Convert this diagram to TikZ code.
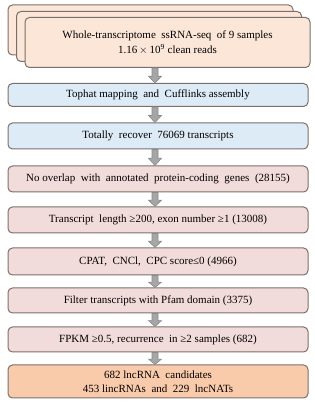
\documentclass[tikz,border=0pt]{standalone}
\usepackage{fontspec}
\setmainfont{Liberation Serif}
\usetikzlibrary{calc}
\definecolor{peach}{HTML}{FCE6D8}
\definecolor{lblue}{HTML}{DDEBF6}
\definecolor{lpink}{HTML}{F2DCDB}
\definecolor{lorange}{HTML}{F9CBAB}
\definecolor{bord}{HTML}{7A706B}
\definecolor{arfill}{HTML}{A6A6A6}
\definecolor{ardraw}{HTML}{8A8A8A}
\tikzset{
  box/.style={draw=bord, line width=1pt, rounded corners=4.5pt, inner sep=0pt,
    minimum width=300pt, align=center, font=\fontsize{11}{14.5}\selectfont},
  stackbox/.style={box, fill=peach, minimum width=285pt, minimum height=50pt},
  bluebox/.style={box, fill=lblue},
  pinkbox/.style={box, fill=lpink},
  endbox/.style={box, fill=lorange, font=\fontsize{11}{13.5}\selectfont},
  blockarrow/.style={fill=arfill, draw=ardraw, line width=0.6pt},
}
\newcommand\flowarrow[2]{%
  \path[blockarrow] let \p1=(#1.south), \p2=(#2.north), \n1={\y1-\y2} in
    (152pt,\y1) -- (158pt,\y1) -- (158pt,{\y2+0.45*\n1}) -- (161.5pt,{\y2+0.45*\n1})
    -- (155pt,\y2) -- (148.5pt,{\y2+0.45*\n1}) -- (152pt,{\y2+0.45*\n1}) -- cycle;}
\begin{document}
\begin{tikzpicture}[x=1pt,y=1pt]
\useasboundingbox (0,0) rectangle (315,404);
\node[stackbox] (s3) at (150.5,374) {};
\node[stackbox] (s2) at (159,367.5) {};
\node[stackbox] (s1) at (167.5,361.5) {Whole-transcriptome\ \ ssRNA-seq\ \ of 9 samples\\1.16$\,\times\,$10\textsuperscript{9} clean reads};
\node[bluebox, minimum height=23pt] (b1) at (158,309) {Tophat mapping\ \ and\ \ Cufflinks assembly};
\node[bluebox, minimum height=26pt] (b2) at (158,268) {Totally\ \ recover\ \ 76069 transcripts};
\node[pinkbox, minimum height=26pt] (p1) at (158,225) {No overlap\ \ with\ \ annotated\ \ protein-coding\ \ genes\ \ (28155)};
\node[pinkbox, minimum height=26pt] (p2) at (158,184) {Transcript\ \ length ≥200, exon number ≥1 (13008)};
\node[pinkbox, minimum height=27pt] (p3) at (158,142.5) {CPAT,\ \ CNCl,\ \ CPC score≤0 (4966)};
\node[pinkbox, minimum height=25pt] (p4) at (158,103.5) {Filter transcripts with Pfam domain (3375)};
\node[pinkbox, minimum height=25pt] (p5) at (158,64.5) {FPKM ≥0.5, recurrence\ \ in ≥2 samples (682)};
\node[endbox, minimum height=33pt] (e1) at (158,22.5) {682 lncRNA\ \ candidates\\453 lincRNAs\ \ and\ \ 229\ \ lncNATs};
\flowarrow{s1}{b1}
\flowarrow{b1}{b2}
\flowarrow{b2}{p1}
\flowarrow{p1}{p2}
\flowarrow{p2}{p3}
\flowarrow{p3}{p4}
\flowarrow{p4}{p5}
\flowarrow{p5}{e1}
\end{tikzpicture}
\end{document}
